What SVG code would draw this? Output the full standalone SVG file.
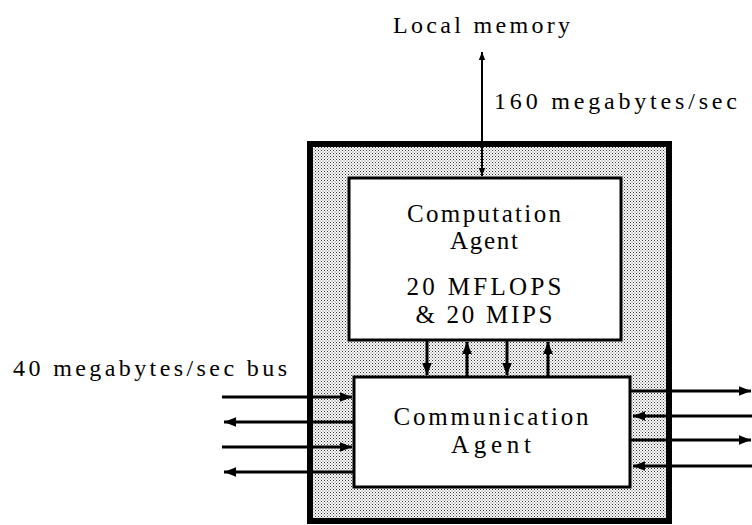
<svg xmlns="http://www.w3.org/2000/svg" width="752" height="525" viewBox="0 0 752 525">
  <defs>
    <pattern id="stipple" width="3" height="3" patternUnits="userSpaceOnUse">
      <rect width="3" height="3" fill="#ffffff"/>
      <rect x="0" y="0" width="1" height="1" fill="#333"/>
      <rect x="1.5" y="1.5" width="1" height="1" fill="#555"/>
    </pattern>
    <marker id="ah" viewBox="0 0 10 10" refX="10" refY="5" markerWidth="4" markerHeight="4" orient="auto-start-reverse" markerUnits="strokeWidth">
      <path d="M0,1 L10,5 L0,9 Z" fill="#000"/>
    </marker>
  </defs>
  <style>
    text { font-family: "Liberation Serif", "Times New Roman", serif; font-size: 24px; fill: #000; }
    .big { font-size: 25px; }
    .box { fill: #fff; stroke: #000; stroke-width: 3; }
    .conn { stroke: #000; stroke-width: 3; fill: none; }
    .thin { stroke: #000; stroke-width: 2; fill: none; }
  </style>
  <rect width="752" height="525" fill="#fff"/>

  <g id="processor">
    <rect x="310" y="144" width="359" height="377" fill="url(#stipple)" stroke="#000" stroke-width="6"/>
  </g>

  <g id="computation-agent">
    <rect class="box" x="349" y="178" width="272" height="162"/>
    <text class="big" x="484" y="222" text-anchor="middle" textLength="154" lengthAdjust="spacing">Computation</text>
    <text class="big" x="484" y="249" text-anchor="middle" textLength="68" lengthAdjust="spacing">Agent</text>
    <text class="big" x="484" y="295" text-anchor="middle" textLength="155" lengthAdjust="spacing">20 MFLOPS</text>
    <text class="big" x="484" y="323" text-anchor="middle" textLength="137" lengthAdjust="spacing">&amp; 20 MIPS</text>
  </g>

  <g id="communication-agent">
    <rect class="box" x="354" y="377" width="276" height="110"/>
    <text class="big" x="491" y="425" text-anchor="middle" textLength="195" lengthAdjust="spacing">Communication</text>
    <text class="big" x="491" y="453" text-anchor="middle" textLength="80" lengthAdjust="spacing">Agent</text>
  </g>

  <g id="labels">
    <text x="393" y="33" textLength="177" lengthAdjust="spacing">Local memory</text>
    <text x="494" y="109" textLength="243" lengthAdjust="spacing">160 megabytes/sec</text>
    <text x="13" y="376" textLength="274" lengthAdjust="spacing">40 megabytes/sec bus</text>
  </g>

  <g id="connectors">
    <line class="thin" x1="482" y1="52" x2="482" y2="176" marker-start="url(#ah)" marker-end="url(#ah)"/>
    <line class="conn" x1="427" y1="341" x2="427" y2="375" marker-end="url(#ah)"/>
    <line class="conn" x1="467" y1="376" x2="467" y2="342" marker-end="url(#ah)"/>
    <line class="conn" x1="507" y1="341" x2="507" y2="375" marker-end="url(#ah)"/>
    <line class="conn" x1="548" y1="376" x2="548" y2="342" marker-end="url(#ah)"/>

    <line class="conn" x1="222" y1="397" x2="352" y2="397" marker-end="url(#ah)"/>
    <line class="conn" x1="353" y1="422" x2="224" y2="422" marker-end="url(#ah)"/>
    <line class="conn" x1="222" y1="447" x2="352" y2="447" marker-end="url(#ah)"/>
    <line class="conn" x1="353" y1="472" x2="224" y2="472" marker-end="url(#ah)"/>

    <line class="conn" x1="631" y1="391" x2="751" y2="391" marker-end="url(#ah)"/>
    <line class="conn" x1="752" y1="416" x2="633" y2="416" marker-end="url(#ah)"/>
    <line class="conn" x1="631" y1="440" x2="751" y2="440" marker-end="url(#ah)"/>
    <line class="conn" x1="752" y1="466" x2="633" y2="466" marker-end="url(#ah)"/>
  </g>
</svg>
